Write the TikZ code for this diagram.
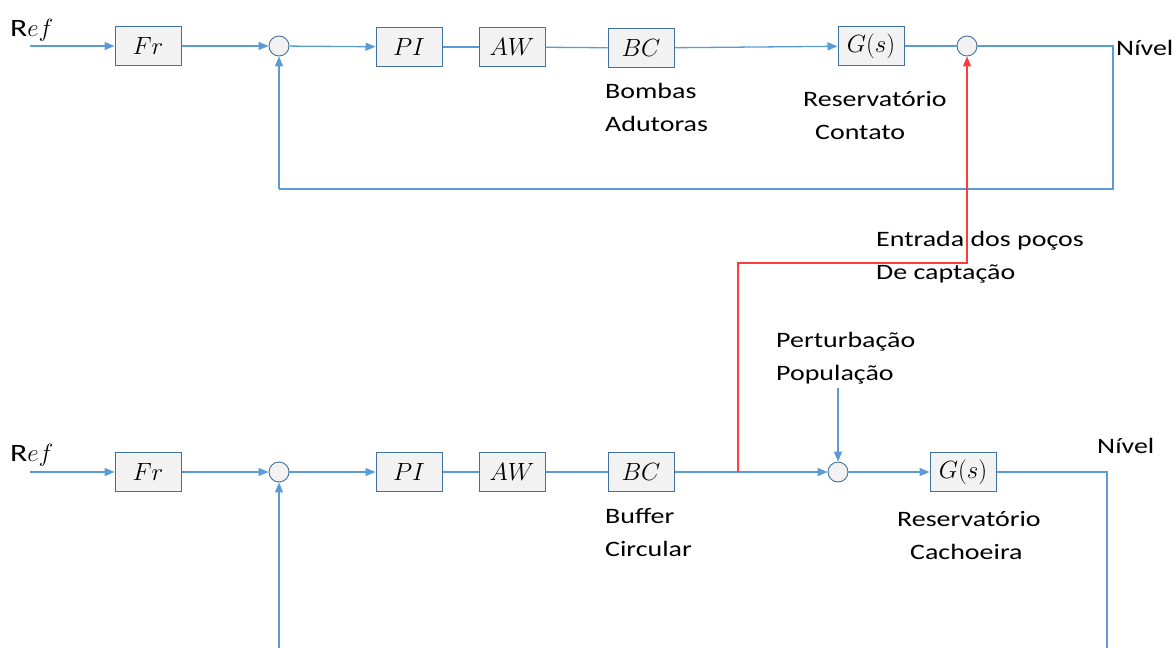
\documentclass[tikz,border=0pt]{standalone}
\usepackage{fontspec}
\setmainfont{Carlito}[FakeStretch=1.27]
\usetikzlibrary{arrows.meta}

\definecolor{linha}{RGB}{91,155,213}
\definecolor{borda}{RGB}{65,113,156}
\definecolor{fundo}{RGB}{242,242,242}
\definecolor{verm}{RGB}{255,60,60}

\tikzstyle{bloco}=[draw=borda, fill=fundo, line width=1pt, minimum width=66pt, minimum height=39pt, inner sep=0pt, font=\fontsize{29}{30}\selectfont]
\tikzstyle{soma}=[draw=borda, fill=fundo, circle, minimum size=20pt, inner sep=0pt, line width=0.9pt]
\tikzstyle{sinal}=[draw=linha, line width=1.3pt]
\tikzstyle{seta}=[sinal, -{Triangle[length=10pt,width=8pt]}]
\tikzstyle{retorno}=[draw=verm, line width=1.3pt, -{Triangle[length=10pt,width=8pt]}]
\tikzstyle{rotulo}=[font=\fontsize{22}{33}\selectfont, inner sep=0pt, align=left]
\tikzstyle{entrada}=[font=\fontsize{25}{30}\selectfont, inner sep=0pt]

\begin{document}
\begin{tikzpicture}[x=1pt,y=-1pt]
\useasboundingbox (0,0) rectangle (1176,648);

% MALHA DO RESERVATORIO CONTATO
\node[entrada, anchor=base west] (ref1) at (10,36) {R$ef$};
\coordinate (in1) at (30,46);
\node[bloco] (fr1) at (148,46) {$Fr$};
\node[soma] (s1) at (279,46) {};
\node[bloco] (pi1) at (409,47) {$PI$};
\node[bloco] (aw1) at (512,47) {$AW$};
\node[bloco] (bc1) at (641,48) {$BC$};
\node[bloco] (g1) at (871,46) {$G(s)$};
\node[soma] (s2) at (967,46) {};
\node[rotulo, anchor=base west] (niv1) at (1116,55) {Nível};
\coordinate (c1) at (1113,46);
\coordinate (c2) at (1113,189);
\coordinate (c3) at (279,189);

\draw[seta] (in1) -- (fr1);
\draw[seta] (fr1) -- (s1);
\draw[seta] (s1) -- (pi1);
\draw[sinal] (pi1) -- (aw1);
\draw[sinal] (aw1) -- (bc1);
\draw[seta] (bc1) -- (g1);
\draw[sinal] (g1) -- (s2);
\draw[sinal] (s2) -- (c1) -- (c2) -- (c3);
\draw[seta] (c3) -- (s1);

% base = linha de baixo do texto
\node[rotulo, anchor=base west] (bomb) at (605,131) {Bombas\\Adutoras};
\node[rotulo, anchor=base west] (rcon) at (803,139) {Reservatório\\\hspace*{12pt}Contato};

% MALHA DO RESERVATORIO CACHOEIRA
\node[entrada, anchor=base west] (ref2) at (10,461) {R$ef$};
\coordinate (in2) at (30,472);
\node[bloco] (fr2) at (148,472) {$Fr$};
\node[soma] (s3) at (279,472) {};
\node[bloco] (pi2) at (409,472) {$PI$};
\node[bloco] (aw2) at (512,472) {$AW$};
\node[bloco] (bc2) at (641,472) {$BC$};
\node[soma] (s4) at (838,472) {};
\node[bloco] (g2) at (963,472) {$G(s)$};
\node[rotulo, anchor=base west] (niv2) at (1097,453) {Nível};
\coordinate (c4) at (1107,472);
\coordinate (c5) at (1107,648);
\coordinate (c6) at (279,648);

\draw[seta] (in2) -- (fr2);
\draw[seta] (fr2) -- (s3);
\draw[seta] (s3) -- (pi2);
\draw[sinal] (pi2) -- (aw2);
\draw[sinal] (aw2) -- (bc2);
\draw[seta] (bc2) -- (s4);
\draw[seta] (s4) -- (g2);
\draw[sinal] (g2) -- (c4) -- (c5);
\draw[seta] (c6) -- (s3);

\node[rotulo, anchor=base west] (buf) at (605,556) {Buffer\\Circular};
\node[rotulo, anchor=base west] (rcac) at (897,559) {Reservatório\\\hspace*{13pt}Cachoeira};

% PERTURBACAO
\node[rotulo, anchor=base west] (pert) at (776,380) {Perturbação\\População};
\coordinate (p0) at (838,388);
\draw[seta] (p0) -- (s4);

% ENTRADA DOS POCOS
\coordinate (r0) at (738,472);
\coordinate (r1) at (738,263);
\coordinate (r2) at (967,263);
\draw[retorno] (r0) -- (r1) -- (r2) -- (s2);
\node[rotulo, anchor=base west] (poco) at (876,279) {Entrada dos poços\\De captação};

\end{tikzpicture}
\end{document}
